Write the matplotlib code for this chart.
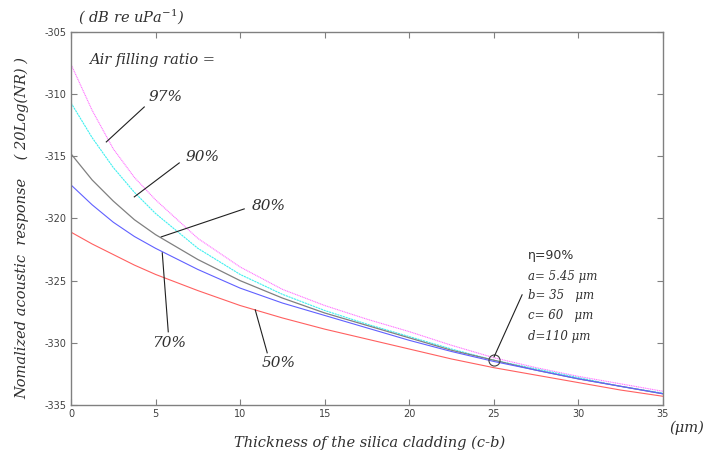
import matplotlib
matplotlib.use('Agg')
import matplotlib.pyplot as plt

plt.rcParams['mathtext.fontset'] = 'dejavuserif'

# thickness of the silica cladding (um)
espesor = [0, 1.25, 2.5, 3.75, 5, 7.5, 10, 12.5, 15, 17.5, 20, 22.5, 25, 27.5, 30, 32.5, 35]

# normalized acoustic response (dB re uPa^-1) for each air filling ratio
r97 = [-307.6, -311.3, -314.4, -316.7, -318.5, -321.6, -323.9, -325.7, -327.0, -328.1, -329.1, -330.2, -331.2, -332.0, -332.7, -333.3, -333.9]
r90 = [-310.7, -313.5, -315.9, -317.9, -319.6, -322.4, -324.5, -326.1, -327.4, -328.5, -329.5, -330.5, -331.4, -332.1, -332.8, -333.5, -334.05]
r80 = [-314.8, -316.9, -318.6, -320.1, -321.3, -323.3, -325.0, -326.4, -327.6, -328.6, -329.6, -330.6, -331.4, -332.2, -332.9, -333.5, -334.1]
r70 = [-317.3, -318.9, -320.3, -321.45, -322.4, -324.1, -325.6, -326.8, -327.8, -328.8, -329.8, -330.7, -331.5, -332.2, -332.9, -333.5, -334.1]
r50 = [-321.1, -322.05, -322.9, -323.75, -324.5, -325.8, -327.0, -328.0, -328.9, -329.7, -330.5, -331.3, -332.0, -332.6, -333.2, -333.8, -334.3]

# design point marked with a circle
punto_x = 25
punto_y = -331.4

xticks = [0, 5, 10, 15, 20, 25, 30, 35]
yticks = [-335, -330, -325, -320, -315, -310, -305]

fig = plt.figure(figsize=(7.03, 4.54), dpi=100)
ax = fig.add_axes([0.101, 0.108, 0.842, 0.8215])

ax.plot(espesor, r97, color='#ff70ff', lw=0.8, ls=(0, (1, 0.6)))
ax.plot(espesor, r90, color='#40f0f0', lw=0.8, ls=(0, (2, 0.6)))
ax.plot(espesor, r80, color='#808080', lw=0.9)
ax.plot(espesor, r70, color='#6060ff', lw=0.8)
ax.plot(espesor, r50, color='#ff6060', lw=0.8)
ax.plot([punto_x], [punto_y], 'o', ms=8, mfc='none', mec='#404040', mew=0.8)

ax.set_xlim(0, 35)
ax.set_ylim(-335, -305)
ax.set_xticks(xticks)
ax.set_yticks(yticks)
ax.set_xticklabels([str(t) for t in xticks])
ax.set_yticklabels([str(t) for t in yticks])
ax.tick_params(direction='in', top=True, right=True, length=4, width=0.8,
               color='#808080', labelsize=7, labelcolor='#404040', pad=3)
for s in ax.spines.values():
    s.set_color('#808080')
    s.set_linewidth(1.0)

fuente = dict(family='DejaVu Serif', style='italic', color='#303030')

# pixel position in the picture -> data coordinates
def pix(px, py):
    return ((px - 71.7) / 16.92, -305 - (py - 32) / 12.44)

etiquetas = [
    ('97%', (107, 142), (145, 107), (166, 97)),
    ('90%', (135, 197), (180, 163), (203, 157)),
    ('80%', (162, 237), (245, 209), (270, 206)),
    ('70%', (163, 253), (169, 332), (170, 343)),
    ('50%', (256, 310), (268, 353), (279, 363)),
]
for txt, p0, p1, pt in etiquetas:
    ax.plot(*zip(pix(*p0), pix(*p1)), color='#202020', lw=0.8, clip_on=False)
    ax.text(*pix(*pt), txt, fontsize=11, ha='center', va='center', **fuente)

ax.plot(*zip(pix(495, 357), pix(523, 295)), color='#202020', lw=0.8)

ax.text(*pix(90, 60), 'Air filling ratio =', fontsize=10.5, ha='left', va='center', **fuente)

ax.text(*pix(529, 256), '\u03b7=90%', fontsize=9, ha='left', va='center',
        family='DejaVu Sans', color='#303030')
bloque = [
    ('a= 5.45 \u03bcm', 277),
    ('b= 35   \u03bcm', 296),
    ('c= 60   \u03bcm', 316),
    ('d=110 \u03bcm', 337),
]
for txt, py in bloque:
    ax.text(*pix(529, py), txt, fontsize=8.5, ha='left', va='center', **fuente)

fig.text(78 / 703, 1 - 17 / 454, '( dB re uPa$^{-1}$)', fontsize=10.5, ha='left', va='center', **fuente)
fig.text(370 / 703, 1 - 443 / 454, 'Thickness of the silica cladding (c-b)', fontsize=10.5,
         ha='center', va='center', **fuente)
fig.text(687 / 703, 1 - 428 / 454, '(\u03bcm)', fontsize=10.5, ha='center', va='center', **fuente)
fig.text(22 / 703, 1 - 228 / 454, 'Nomalized acoustic  response    ( 20Log(NR) )', fontsize=10.5,
         rotation=90, ha='center', va='center', **fuente)

plt.savefig('out.png', dpi=100)
